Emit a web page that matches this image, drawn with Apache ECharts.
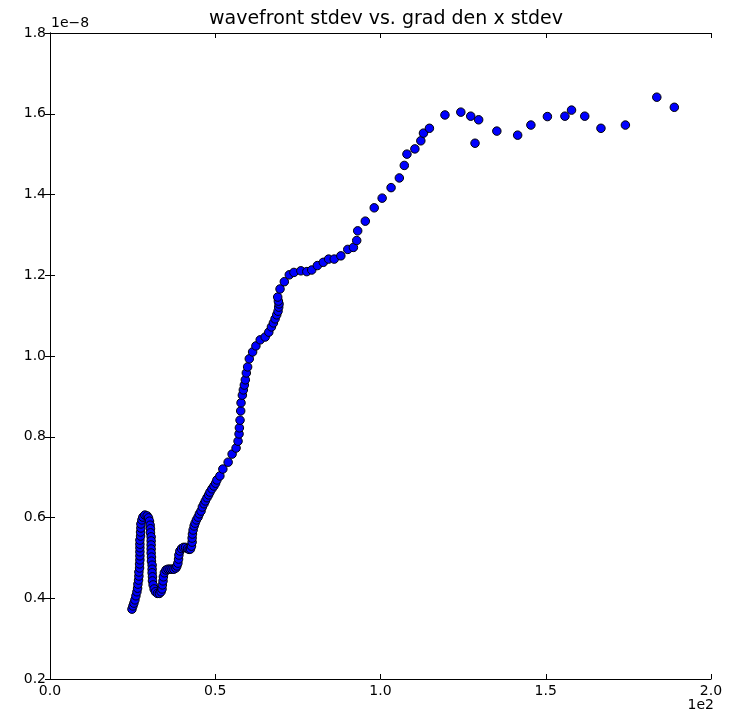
<!DOCTYPE html>
<html>
<head>
<meta charset="utf-8">
<script src="https://cdn.jsdelivr.net/npm/echarts@6/dist/echarts.min.js"></script>
<style>
  html, body { margin: 0; padding: 0; background: #fff; }
  #chart { width: 735px; height: 712px; }
</style>
</head>
<body>
<div id="chart"></div>
<script>
// grad den x stdev, in units of 1e2
const gradDenStdev = [
  0.248, 0.251, 0.254, 0.257, 0.260, 0.263, 0.265, 0.266, 0.268, 0.269,
  0.269, 0.271, 0.271, 0.272, 0.272, 0.272, 0.272, 0.272, 0.272, 0.274,
  0.274, 0.275, 0.275, 0.278, 0.281, 0.287, 0.294, 0.298, 0.301, 0.303,
  0.304, 0.304, 0.306, 0.306, 0.306, 0.306, 0.306, 0.307, 0.307, 0.309,
  0.309, 0.309, 0.310, 0.310, 0.312, 0.315, 0.319, 0.325, 0.331, 0.336,
  0.339, 0.340, 0.342, 0.343, 0.346, 0.351, 0.357, 0.363, 0.369, 0.375,
  0.381, 0.384, 0.387, 0.389, 0.390, 0.393, 0.398, 0.404, 0.410, 0.416,
  0.421, 0.425, 0.428, 0.430, 0.430, 0.431, 0.433, 0.436, 0.439, 0.443,
  0.448, 0.452, 0.457, 0.461, 0.466, 0.470, 0.475, 0.480, 0.484, 0.490,
  0.496, 0.501, 0.505, 0.514, 0.523, 0.539, 0.551, 0.563, 0.569, 0.572,
  0.573, 0.575, 0.577, 0.578, 0.582, 0.585, 0.588, 0.591, 0.594, 0.598,
  0.603, 0.613, 0.623, 0.636, 0.651, 0.662, 0.670, 0.676, 0.681, 0.686,
  0.690, 0.692, 0.693, 0.691, 0.689, 0.696, 0.709, 0.724, 0.738, 0.759,
  0.777, 0.792, 0.809, 0.827, 0.843, 0.860, 0.880, 0.901, 0.918, 0.928,
  0.931, 0.954, 0.981, 1.005, 1.032, 1.057, 1.072, 1.080, 1.104, 1.122,
  1.130, 1.148, 1.195, 1.243, 1.273, 1.297, 1.286, 1.352, 1.415, 1.455,
  1.505, 1.558, 1.578, 1.618, 1.667, 1.741, 1.836, 1.889
];

// wavefront stdev, in units of 1e-8
const wavefrontStdev = [
  0.373, 0.381, 0.388, 0.396, 0.406, 0.416, 0.425, 0.435, 0.445, 0.455,
  0.465, 0.475, 0.485, 0.495, 0.505, 0.515, 0.525, 0.534, 0.544, 0.554,
  0.564, 0.574, 0.584, 0.594, 0.601, 0.606, 0.604, 0.599, 0.591, 0.581,
  0.572, 0.562, 0.552, 0.542, 0.532, 0.522, 0.512, 0.502, 0.492, 0.482,
  0.472, 0.463, 0.453, 0.443, 0.433, 0.423, 0.416, 0.412, 0.412, 0.416,
  0.423, 0.433, 0.443, 0.453, 0.463, 0.470, 0.472, 0.472, 0.472, 0.472,
  0.475, 0.480, 0.487, 0.497, 0.507, 0.517, 0.523, 0.526, 0.526, 0.523,
  0.521, 0.522, 0.529, 0.539, 0.549, 0.559, 0.569, 0.579, 0.586, 0.594,
  0.601, 0.609, 0.616, 0.626, 0.634, 0.641, 0.649, 0.656, 0.663, 0.671,
  0.678, 0.685, 0.693, 0.703, 0.720, 0.737, 0.757, 0.772, 0.789, 0.807,
  0.822, 0.841, 0.864, 0.884, 0.903, 0.916, 0.928, 0.941, 0.958, 0.973,
  0.993, 1.010, 1.025, 1.040, 1.047, 1.059, 1.072, 1.082, 1.092, 1.102,
  1.111, 1.121, 1.129, 1.136, 1.146, 1.166, 1.184, 1.201, 1.207, 1.211,
  1.209, 1.213, 1.224, 1.232, 1.240, 1.240, 1.248, 1.264, 1.269, 1.286,
  1.310, 1.334, 1.367, 1.391, 1.417, 1.441, 1.472, 1.500, 1.513, 1.533,
  1.552, 1.564, 1.597, 1.604, 1.594, 1.585, 1.527, 1.557, 1.547, 1.572,
  1.593, 1.594, 1.609, 1.594, 1.564, 1.572, 1.641, 1.616
];

const xTicks = [0.0, 0.5, 1.0, 1.5, 2.0];
const yTicks = [0.2, 0.4, 0.6, 0.8, 1.0, 1.2, 1.4, 1.6, 1.8];

const points = gradDenStdev.map((x, i) => [x, wavefrontStdev[i]]);

const FONT = 'DejaVu Sans';
const chart = echarts.init(document.getElementById('chart'), null, { renderer: 'canvas' });

const frameLine = { show: true, lineStyle: { color: '#000', width: 1 } };
const innerTick = { show: true, inside: true, length: 5, lineStyle: { color: '#000', width: 1 } };

function xAxisDef(position, showLabels) {
  return {
    type: 'value', position,
    min: xTicks[0], max: xTicks[xTicks.length - 1], interval: xTicks[1] - xTicks[0],
    axisLine: frameLine, axisTick: innerTick, splitLine: { show: false },
    axisLabel: {
      show: showLabels, color: '#000', fontFamily: FONT, fontSize: 14, margin: 5,
      formatter: v => v.toFixed(1)
    }
  };
}
function yAxisDef(position, showLabels) {
  return {
    type: 'value', position,
    min: yTicks[0], max: yTicks[yTicks.length - 1], interval: yTicks[1] - yTicks[0],
    axisLine: frameLine, axisTick: innerTick, splitLine: { show: false },
    axisLabel: {
      show: showLabels, color: '#000', fontFamily: FONT, fontSize: 14, margin: 4,
      formatter: v => v.toFixed(1)
    }
  };
}

chart.setOption({
  animation: false,
  backgroundColor: '#fff',
  title: {
    text: 'wavefront stdev vs. grad den x stdev',
    left: 381, top: 5, textAlign: 'center',
    textStyle: { fontFamily: FONT, fontSize: 19, fontWeight: 'normal', color: '#000' }
  },
  grid: { left: 50, top: 33, width: 661, height: 646, containLabel: false },
  xAxis: [xAxisDef('bottom', true), xAxisDef('top', false)],
  yAxis: [yAxisDef('left', true), yAxisDef('right', false)],
  graphic: [
    {
      type: 'text', left: 51, top: 16,
      style: { text: '1e\u22128', font: '14px "DejaVu Sans"', fill: '#000' }
    },
    {
      type: 'text', right: 21, top: 698,
      style: { text: '1e2', font: '14px "DejaVu Sans"', fill: '#000' }
    }
  ],
  series: [{
    type: 'scatter',
    xAxisIndex: 0, yAxisIndex: 0,
    data: points,
    symbol: 'circle',
    symbolSize: 8.5,
    itemStyle: { color: '#0000ff', borderColor: '#000', borderWidth: 1, opacity: 1 },
    emphasis: { disabled: true }
  }]
});
</script>
</body>
</html>
